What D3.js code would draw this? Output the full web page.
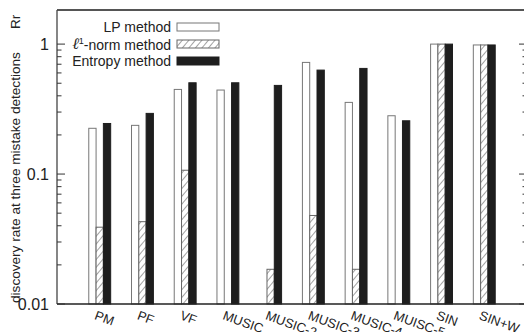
<!DOCTYPE html>
<html>
<head>
<meta charset="utf-8">
<script src="https://cdn.jsdelivr.net/npm/d3@7"></script>
<style>
  html, body { margin: 0; padding: 0; background: #fff; }
  svg { display: block; font-family: "Liberation Sans", Arial, sans-serif; }
</style>
</head>
<body>
<svg id="chart" width="524" height="332"></svg>
<script>
// Discovery rate at three mistake detections for each signal type
const categories = ["PM", "PF", "VF", "MUSIC", "MUSIC-2", "MUSIC-3", "MUSIC-4", "MUISC-5", "SIN", "SIN+W"];
const lpValues      = [0.225, 0.237, 0.448, 0.443, null, 0.723, 0.356, 0.281, 1.0, 0.985];
const l1Values      = [0.039, 0.043, 0.107, null, 0.0185, 0.048, 0.0185, null, 1.0, 0.985];
const entropyValues = [0.245, 0.293, 0.504, 0.504, 0.481, 0.631, 0.650, 0.257, 1.0, 0.985];
const yTickValues = [0.01, 0.1, 1];
const yTickLabels = ["0.01", "0.1", "1"];
const seriesNames = ["LP method", "-norm method", "Entropy method"];

const svg = d3.select("#chart");
const mLeft = 57, mRight = 527, mTop = 10, mBottom = 304;

const x = d3.scaleLinear().domain([0, categories.length + 1]).range([mLeft, mRight]);
const y = d3.scaleLog().domain([0.01, 1.83]).range([mBottom, mTop]);

// hatch pattern for the l1-norm bars
const defs = svg.append("defs");
const pat = defs.append("pattern")
  .attr("id", "hatch").attr("patternUnits", "userSpaceOnUse")
  .attr("width", 5).attr("height", 5)
  .attr("patternTransform", "rotate(40)");
pat.append("rect").attr("width", 5).attr("height", 5).attr("fill", "#fff");
pat.append("line").attr("x1", 0).attr("y1", 0).attr("x2", 0).attr("y2", 5)
  .attr("stroke", "#555").attr("stroke-width", 1.1);

const series = [
  { values: lpValues, fill: "#fff", stroke: "#777" },
  { values: l1Values, fill: "url(#hatch)", stroke: "#666" },
  { values: entropyValues, fill: "#1e1e1e", stroke: "#1e1e1e" }
];

const barW = 7.3;
series.forEach((s, si) => {
  svg.append("g").selectAll("rect")
    .data(categories.map((c, i) => ({ i, v: s.values[i] })).filter(d => d.v != null))
    .join("rect")
    .attr("x", d => x(d.i + 1) - 1.5 * barW + si * barW)
    .attr("y", d => y(d.v))
    .attr("width", barW)
    .attr("height", d => mBottom - y(d.v))
    .attr("fill", s.fill)
    .attr("stroke", s.stroke)
    .attr("stroke-width", 1);
});

// frame: top line, left axis, right axis, bottom axis
svg.append("line").attr("x1", mLeft).attr("x2", mRight).attr("y1", mTop).attr("y2", mTop)
  .attr("stroke", "#555").attr("stroke-width", 2);
svg.append("line").attr("x1", mLeft).attr("x2", mLeft).attr("y1", mTop).attr("y2", mBottom)
  .attr("stroke", "#444").attr("stroke-width", 1.3);
svg.append("line").attr("x1", mRight).attr("x2", mRight).attr("y1", mTop).attr("y2", mBottom)
  .attr("stroke", "#444").attr("stroke-width", 1.3);
svg.append("line").attr("x1", mLeft).attr("x2", mRight).attr("y1", mBottom).attr("y2", mBottom)
  .attr("stroke", "#222").attr("stroke-width", 1.5);

// log ticks on left and right, pointing inward
const minorTicks = [];
[0.01, 0.1, 1].forEach(d => { for (let k = 2; k <= 9; k++) { const v = d * k; if (v <= 1.83) minorTicks.push(v); } });
const tickG = svg.append("g").attr("stroke", "#333").attr("stroke-width", 1);
yTickValues.forEach(v => {
  tickG.append("line").attr("x1", mLeft).attr("x2", mLeft + 8).attr("y1", y(v)).attr("y2", y(v));
  tickG.append("line").attr("x1", mRight).attr("x2", mRight - 8).attr("y1", y(v)).attr("y2", y(v));
});
minorTicks.forEach(v => {
  tickG.append("line").attr("x1", mLeft).attr("x2", mLeft + 4.5).attr("y1", y(v)).attr("y2", y(v));
  tickG.append("line").attr("x1", mRight).attr("x2", mRight - 4.5).attr("y1", y(v)).attr("y2", y(v));
});

svg.append("g").selectAll("text").data(yTickValues).join("text")
  .attr("x", 49).attr("y", d => y(d)).attr("dy", "0.36em")
  .attr("text-anchor", "end").attr("font-size", 16).attr("fill", "#222")
  .text((d, i) => yTickLabels[i]);

// y title
svg.append("text")
  .attr("transform", `translate(20,303) rotate(-90)`)
  .attr("font-size", 13.6).attr("fill", "#222")
  .text("discovery rate at three mistake detections");
svg.append("text")
  .attr("transform", `translate(20,29) rotate(-90)`)
  .attr("font-size", 13.6).attr("fill", "#222")
  .text("Rr");

// category labels, slanted
svg.append("g").selectAll("text").data(categories).join("text")
  .attr("transform", (d, i) => `translate(${x(i + 1) - 6},319) rotate(20)`)
  .attr("font-size", 13).attr("fill", "#222")
  .text(d => d);

// legend
const legY = [27, 44, 61];
const leg = svg.append("g");
series.forEach((s, si) => {
  leg.append("rect").attr("x", 177).attr("y", legY[si] - 4).attr("width", 42).attr("height", 8)
    .attr("fill", s.fill).attr("stroke", s.stroke).attr("stroke-width", 1);
});
leg.append("text").attr("x", 171).attr("y", legY[0]).attr("dy", "0.36em")
  .attr("text-anchor", "end").attr("font-size", 14).attr("fill", "#222").text(seriesNames[0]);
const l1Text = leg.append("text").attr("x", 171).attr("y", legY[1]).attr("dy", "0.36em")
  .attr("text-anchor", "end").attr("font-size", 14).attr("fill", "#222");
l1Text.append("tspan").attr("font-family", "DejaVu Serif").attr("font-style", "italic").attr("font-size", 16).text("\u2113");
l1Text.append("tspan").attr("font-size", 9).attr("dy", "-0.6em").text("1");
l1Text.append("tspan").attr("dy", "0.45em").text(seriesNames[1]);
leg.append("text").attr("x", 171).attr("y", legY[2]).attr("dy", "0.36em")
  .attr("text-anchor", "end").attr("font-size", 14).attr("fill", "#222").text(seriesNames[2]);
</script>
</body>
</html>
